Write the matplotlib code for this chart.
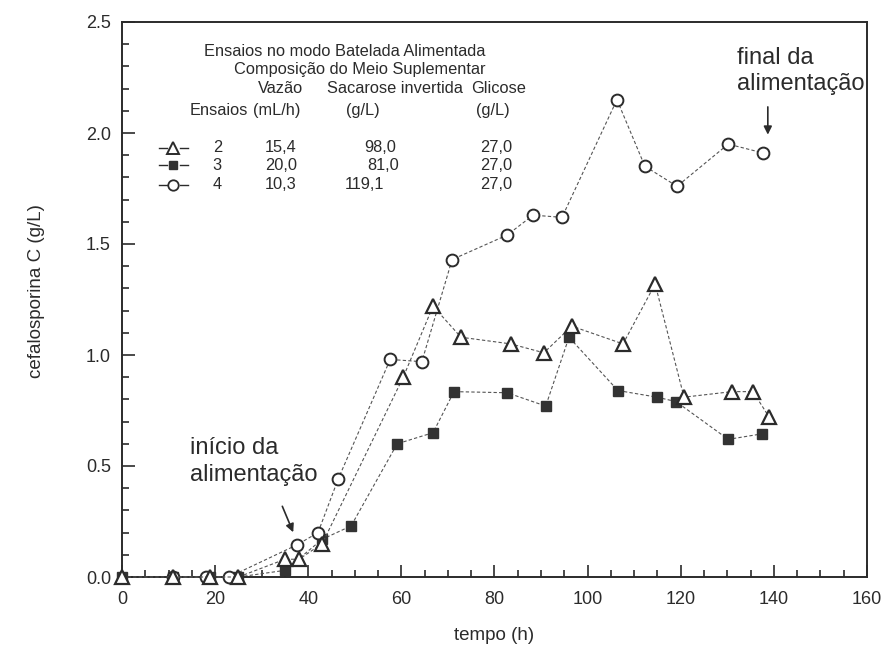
import matplotlib.pyplot as plt

plt.rcParams['font.family'] = ['Liberation Sans', 'DejaVu Sans']

# ensaio 2 (triangulos)
t2 = [0, 11, 19, 25, 35, 38, 43, 60.4, 66.8, 72.8, 83.5, 90.6, 96.6, 107.6, 114.5, 120.7, 131, 135.5, 139]
c2 = [0, 0, 0, 0, 0.08, 0.08, 0.15, 0.90, 1.22, 1.08, 1.05, 1.01, 1.13, 1.05, 1.32, 0.81, 0.835, 0.835, 0.72]

# ensaio 3 (quadrados)
t3 = [0, 11, 19, 25, 35, 43, 49.2, 59.1, 66.8, 71.3, 82.7, 91, 96, 106.5, 114.9, 119, 130.2, 137.5]
c3 = [0, 0, 0, 0, 0.03, 0.17, 0.23, 0.60, 0.65, 0.835, 0.83, 0.77, 1.08, 0.84, 0.81, 0.79, 0.62, 0.645]

# ensaio 4 (circulos)
t4 = [11, 18, 23, 37.6, 42.1, 46.4, 57.6, 64.4, 70.9, 82.7, 88.3, 94.5, 106.3, 112.3, 119.2, 130.2, 137.7]
c4 = [0, 0, 0, 0.145, 0.20, 0.44, 0.98, 0.97, 1.43, 1.54, 1.63, 1.62, 2.15, 1.85, 1.76, 1.95, 1.91]

ensaios = ['2', '3', '4']
vazao = ['15,4', '20,0', '10,3']
sacarose = ['98,0', '81,0', '119,1']
glicose = ['27,0', '27,0', '27,0']

ink = '#2b2b2b'
fig = plt.figure(figsize=(8.87, 6.5), dpi=100)
ax = fig.add_axes([122/887, 73/650, 745/887, 555/650])

ls = dict(linestyle=(0, (3, 2)), linewidth=0.8, color='#555555', clip_on=False)
ax.plot(t3, c3, marker='s', ms=6.5, mfc='#333333', mec='#333333', zorder=2, **ls)
ax.plot(t4, c4, marker='o', ms=8.5, mfc='white', mec=ink, mew=1.4, zorder=3, **ls)
ax.plot(t2, c2, marker='^', ms=10, mfc='white', mec=ink, mew=1.6, zorder=4, **ls)

ax.set_xlim(0, 160)
ax.set_ylim(0, 2.5)
ax.set_xticks(range(0, 161, 20))
ax.set_xticks(range(0, 161, 5), minor=True)
ax.set_yticks([0, 0.5, 1.0, 1.5, 2.0, 2.5])
ax.set_yticks([i / 10 for i in range(26)], minor=True)
ax.set_yticklabels(['0.0', '0.5', '1.0', '1.5', '2.0', '2.5'])
ax.tick_params(which='both', direction='in', colors=ink, labelsize=13, width=1.2)
ax.tick_params(which='major', length=9)
ax.tick_params(which='minor', length=5)
ax.tick_params(axis='x', pad=10)
ax.tick_params(axis='y', pad=8)
for s in ax.spines.values():
    s.set_color(ink)
    s.set_linewidth(1.4)

ax.set_xlabel('tempo (h)', fontsize=13.5, color=ink, labelpad=14)
ax.set_ylabel('cefalosporina C (g/L)', fontsize=13.5, color=ink)
ax.yaxis.set_label_coords(-0.104, 0.515)

# tabela
tk = dict(transform=ax.transAxes, fontsize=11.8, color=ink, va='center')
ax.text(0.299, 0.946, 'Ensaios no modo Batelada Alimentada', ha='center', **tk)
ax.text(0.319, 0.914, 'Composição do Meio Suplementar', ha='center', **tk)
ax.text(0.213, 0.881, 'Vazão', ha='center', **tk)
ax.text(0.366, 0.881, 'Sacarose invertida', ha='center', **tk)
ax.text(0.506, 0.881, 'Glicose', ha='center', **tk)
ax.text(0.130, 0.841, 'Ensaios', ha='center', **tk)
ax.text(0.208, 0.841, '(mL/h)', ha='center', **tk)
ax.text(0.323, 0.841, '(g/L)', ha='center', **tk)
ax.text(0.498, 0.841, '(g/L)', ha='center', **tk)

rows_y = [0.773, 0.742, 0.707]
sac_x = [0.346, 0.350, 0.326]
symbols = [dict(marker='^', ms=9, mfc='white', mec=ink, mew=1.4),
           dict(marker='s', ms=5.5, mfc='#333333', mec='#333333'),
           dict(marker='o', ms=7.5, mfc='white', mec=ink, mew=1.3)]
for i in range(3):
    y = rows_y[i]
    ax.plot([0.050, 0.060], [y, y], transform=ax.transAxes, color=ink, lw=1.0, clip_on=False)
    ax.plot([0.078, 0.088], [y, y], transform=ax.transAxes, color=ink, lw=1.0, clip_on=False)
    ax.plot([0.069], [y], transform=ax.transAxes, linestyle='none', clip_on=False, **symbols[i])
    ax.text(0.128, y, ensaios[i], ha='center', **tk)
    ax.text(0.213, y, vazao[i], ha='center', **tk)
    ax.text(sac_x[i], y, sacarose[i], ha='center', **tk)
    ax.text(0.502, y, glicose[i], ha='center', **tk)

# anotacoes
ax.text(14.6, 0.52, 'início da\nalimentação', fontsize=17, color=ink, ha='left', va='center',
        linespacing=1.32)
ax.annotate('', xy=(37.0, 0.19), xytext=(34.2, 0.33),
            arrowprops=dict(arrowstyle='-|>', color=ink, lw=1.2, mutation_scale=12))
ax.text(132.1, 2.28, 'final da\nalimentação', fontsize=17, color=ink, ha='left', va='center',
        linespacing=1.25)
ax.annotate('', xy=(138.7, 1.98), xytext=(138.7, 2.13),
            arrowprops=dict(arrowstyle='-|>', color=ink, lw=1.2, mutation_scale=12))

fig.savefig('out.png', dpi=100)
